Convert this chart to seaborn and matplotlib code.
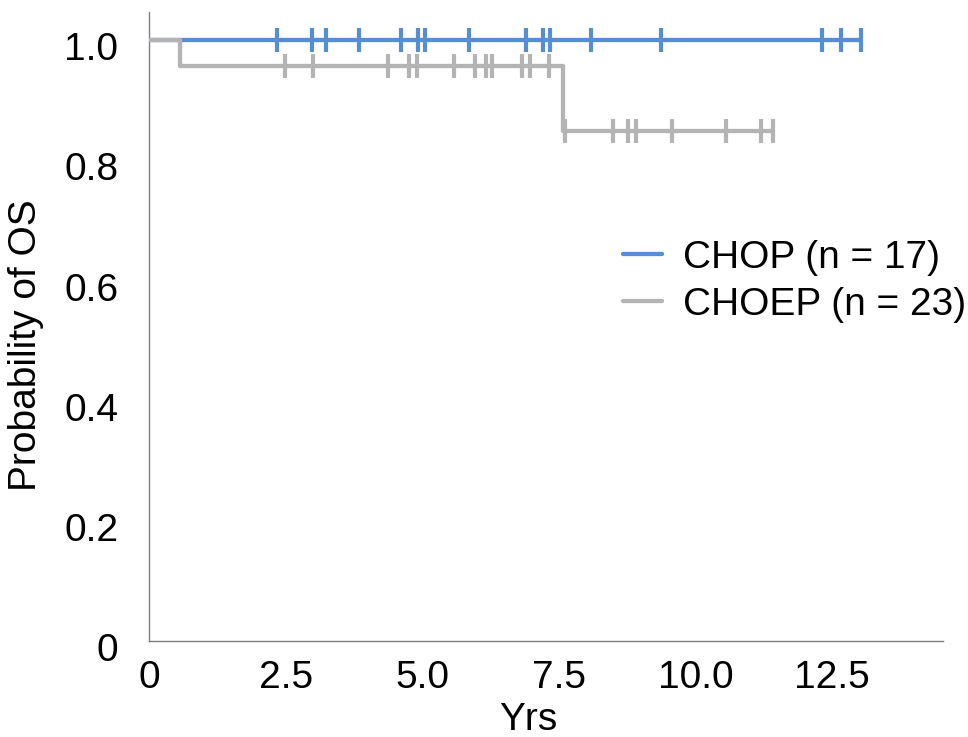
import numpy as np
import pandas as pd
import matplotlib
matplotlib.use("Agg")
import matplotlib.pyplot as plt
import matplotlib.transforms as mtransforms
import seaborn as sns

# ---- data ----
chop_label = "CHOP (n = 17)"
choep_label = "CHOEP (n = 23)"

chop_step_t = [0.0, 13.03]
chop_step_s = [1.0, 1.0]
chop_censor = [2.35, 2.99, 3.23, 3.85, 4.62, 4.93, 5.05, 5.86, 6.90, 7.21,
               7.34, 8.09, 9.37, 12.31, 12.66, 13.03]

choep_step_t = [0.0, 0.56, 7.58, 11.42]
choep_step_s = [1.0, 0.957, 0.849, 0.849]
choep_censor = [2.48, 3.01, 4.38, 4.76, 4.91, 5.58, 5.97, 6.17, 6.28, 6.82,
                6.97, 7.32, 7.61, 8.49, 8.77, 8.91, 9.57, 10.56, 11.20, 11.42]

x_ticks = [0, 2.5, 5.0, 7.5, 10.0, 12.5]
x_ticklabels = ["0", "2.5", "5.0", "7.5", "10.0", "12.5"]
y_ticks = [0, 0.2, 0.4, 0.6, 0.8, 1.0]
y_ticklabels = ["0", "0.2", "0.4", "0.6", "0.8", "1.0"]

blue = "#558ED5"
gray = "#B4B4B4"

sns.set_theme(style="white")
plt.rcParams["font.family"] = ["Liberation Sans", "DejaVu Sans"]

fig = plt.figure(figsize=(9.68, 7.37), dpi=100)
ax = fig.add_axes([149 / 968, 1 - 641 / 737, 794 / 968, 629 / 737])

def step_value(times, surv, t):
    idx = np.searchsorted(times, t, side="right") - 1
    return np.asarray(surv)[idx]

chop_df = pd.DataFrame({"t": chop_step_t, "s": chop_step_s})
choep_df = pd.DataFrame({"t": choep_step_t, "s": choep_step_s})

sns.lineplot(data=chop_df, x="t", y="s", drawstyle="steps-post", color=blue,
             lw=3.1, ax=ax, estimator=None, label=chop_label, zorder=3)
sns.lineplot(data=choep_df, x="t", y="s", drawstyle="steps-post", color=gray,
             lw=3.1, ax=ax, estimator=None, label=choep_label, zorder=4)

chop_c = pd.DataFrame({"t": chop_censor,
                       "s": step_value(chop_step_t, chop_step_s, chop_censor)})
choep_c = pd.DataFrame({"t": choep_censor,
                        "s": step_value(choep_step_t, choep_step_s, choep_censor)})
sns.scatterplot(data=chop_c, x="t", y="s", marker="|", s=300, color=blue,
                linewidth=3.0, ax=ax, zorder=5, legend=False)
sns.scatterplot(data=choep_c, x="t", y="s", marker="|", s=300, color=gray,
                linewidth=3.0, ax=ax, zorder=5, legend=False)

ax.set_xlim(0, 14.53)
ax.set_ylim(0, 1.047)
ax.set_xticks(x_ticks)
ax.set_xticklabels(x_ticklabels)
ax.set_yticks(y_ticks)
ax.set_yticklabels(y_ticklabels)
ax.tick_params(axis="both", length=0, labelsize=28, colors="black")
ax.tick_params(axis="x", pad=14)
ax.tick_params(axis="y", pad=22)
offset = mtransforms.ScaledTranslation(0, -6 / 100, fig.dpi_scale_trans)
for lab in ax.get_yticklabels():
    lab.set_transform(lab.get_transform() + offset)
for sp in ["top", "right"]:
    ax.spines[sp].set_visible(False)
for sp in ["left", "bottom"]:
    ax.spines[sp].set_color("#7F7F7F")
    ax.spines[sp].set_linewidth(1.0)

ax.set_xlabel("Yrs", fontsize=28, color="black")
ax.set_ylabel("Probability of OS", fontsize=28, color="black")
ax.xaxis.set_label_coords((528 - 149) / 794, (641 - 702) / 629)
ax.yaxis.set_label_coords((44 - 149) / 794, (641 - 345) / 629)

leg = ax.legend(loc="upper left", bbox_to_anchor=(623 / 968, 1 - 240 / 737),
                bbox_transform=fig.transFigure, frameon=False, fontsize=28,
                handlelength=1.0, handletextpad=0.55, labelspacing=0.28,
                borderpad=0, borderaxespad=0)
for t in leg.get_texts():
    t.set_color("black")

fig.savefig("out.png", dpi=100)
